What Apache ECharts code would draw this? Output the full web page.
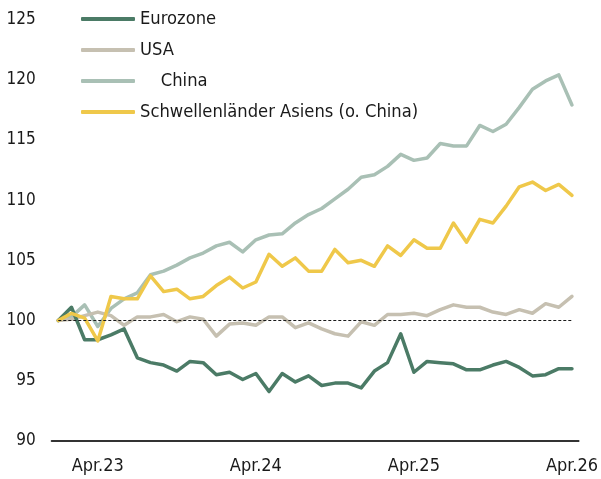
<!DOCTYPE html>
<html>
<head>
<meta charset="utf-8">
<script src="https://cdn.jsdelivr.net/npm/echarts@6/dist/echarts.min.js"></script>
<style>
html,body{margin:0;padding:0;background:#fff;}
#chart{width:601px;height:479px;}
</style>
</head>
<body>
<div id="chart"></div>
<script>
const categories = [
  'Jan.23','Feb.23','Mrz.23','Apr.23','Mai.23','Jun.23','Jul.23','Aug.23','Sep.23','Okt.23','Nov.23','Dez.23',
  'Jan.24','Feb.24','Mrz.24','Apr.24','Mai.24','Jun.24','Jul.24','Aug.24','Sep.24','Okt.24','Nov.24','Dez.24',
  'Jan.25','Feb.25','Mrz.25','Apr.25','Mai.25','Jun.25','Jul.25','Aug.25','Sep.25','Okt.25','Nov.25','Dez.25',
  'Jan.26','Feb.26','Mrz.26','Apr.26'
];
const shownLabels = ['Apr.23','Apr.24','Apr.25','Apr.26'];
const yTicks = [90, 95, 100, 105, 110, 115, 120, 125];
const baseline = 100;

const eurozone = [100, 101.1, 98.4, 98.4, 98.8, 99.3, 96.9, 96.5, 96.3, 95.8, 96.6, 96.5, 95.5, 95.7, 95.1, 95.6, 94.1, 95.6, 94.9, 95.4, 94.6, 94.8, 94.8, 94.4, 95.8, 96.5, 98.9, 95.7, 96.6, 96.5, 96.4, 95.9, 95.9, 96.3, 96.6, 96.1, 95.4, 95.5, 96.0, 96.0];
const usa = [100, 100.1, 100.4, 100.7, 100.4, 99.6, 100.3, 100.3, 100.5, 99.9, 100.3, 100.1, 98.7, 99.7, 99.8, 99.6, 100.3, 100.3, 99.4, 99.8, 99.3, 98.9, 98.7, 99.9, 99.6, 100.5, 100.5, 100.6, 100.4, 100.9, 101.3, 101.1, 101.1, 100.7, 100.5, 100.9, 100.6, 101.4, 101.1, 102.0];
const china = [100, 100.3, 101.3, 99.5, 101.0, 101.8, 102.3, 103.8, 104.1, 104.6, 105.2, 105.6, 106.2, 106.5, 105.7, 106.7, 107.1, 107.2, 108.1, 108.8, 109.3, 110.1, 110.9, 111.9, 112.1, 112.8, 113.8, 113.3, 113.5, 114.7, 114.5, 114.5, 116.2, 115.7, 116.3, 117.7, 119.2, 119.9, 120.4, 117.9];
const asia = [100, 100.6, 100.2, 98.3, 102.0, 101.8, 101.8, 103.7, 102.4, 102.6, 101.8, 102.0, 102.9, 103.6, 102.7, 103.2, 105.5, 104.5, 105.2, 104.1, 104.1, 105.9, 104.8, 105.0, 104.5, 106.2, 105.4, 106.7, 106.0, 106.0, 108.1, 106.5, 108.4, 108.1, 109.5, 111.1, 111.5, 110.8, 111.3, 110.4];

const names = ['Eurozone', 'USA', '    China', 'Schwellenländer Asiens (o. China)'];
const colors = ['#4b7b66', '#c6c0b1', '#a9c0b5', '#efc84a'];
const seriesData = [eurozone, usa, china, asia];

const FONT = '"DejaVu Sans Condensed", "DejaVu Sans", sans-serif';
const chart = echarts.init(document.getElementById('chart'), null, {renderer: 'canvas'});

const series = seriesData.map((d, i) => ({
  name: names[i],
  type: 'line',
  data: d,
  symbol: 'none',
  smooth: false,
  lineStyle: {color: colors[i], width: 3.5, cap: 'round', join: 'round'},
  itemStyle: {color: colors[i]},
  z: [3, 2, 1, 4][i]
}));

series.push({
  name: 'base',
  type: 'line',
  data: [],
  z: 10,
  markLine: {
    silent: true,
    symbol: 'none',
    label: {show: false},
    lineStyle: {color: '#1a1a1a', type: [3, 2], width: 1},
    data: [[{coord: [0, baseline]}, {coord: [categories.length - 1, baseline]}]]
  }
});

chart.setOption({
  animation: false,
  backgroundColor: '#fff',
  grid: {left: 51.7, right: 21.7, top: 19.5, bottom: 38.1, containLabel: false},
  legend: {
    data: names,
    orient: 'vertical',
    left: 81,
    top: 10,
    padding: 0,
    itemWidth: 54,
    itemHeight: 4,
    itemGap: 13,
    icon: 'roundRect',
    textStyle: {fontFamily: FONT, fontSize: 18.2, color: '#1a1a1a'}
  },
  xAxis: {
    type: 'category',
    data: categories,
    boundaryGap: true,
    axisLine: {show: true, lineStyle: {color: '#333', width: 2}},
    axisTick: {show: false},
    axisLabel: {
      interval: 0,
      formatter: v => shownLabels.includes(v) ? v : '',
      fontFamily: FONT, fontSize: 18, color: '#1a1a1a', margin: 16
    },
    splitLine: {show: false}
  },
  yAxis: {
    type: 'value',
    min: yTicks[0],
    max: yTicks[yTicks.length - 1],
    interval: 5,
    axisLine: {show: false},
    axisTick: {show: false},
    splitLine: {show: false},
    axisLabel: {fontFamily: FONT, fontSize: 17, color: '#1a1a1a', margin: 16}
  },
  series: series
});
</script>
</body>
</html>
